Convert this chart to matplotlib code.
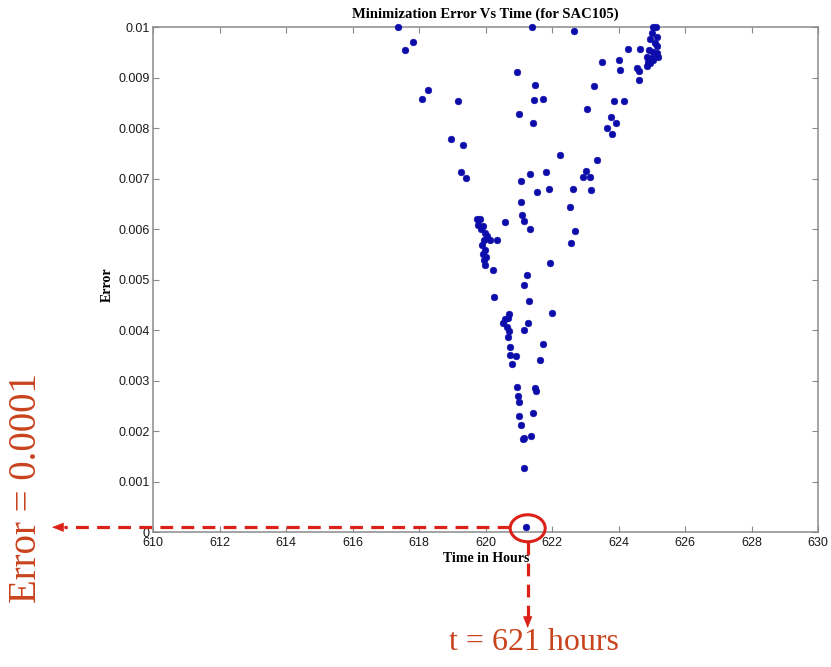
import numpy as np
import matplotlib.pyplot as plt
from matplotlib.patches import Ellipse

# ========== data ==========
time_hours = [
    617.37, 617.57, 617.82, 621.38, 622.65, 620.93, 621.48, 621.46, 621.71,
    618.27, 618.08, 619.15, 621.00, 621.43, 618.94, 619.32, 619.26, 619.40,
    622.23, 623.34, 621.33, 621.81, 621.07, 621.53, 621.89, 622.61, 623.02,
    622.91, 623.13, 623.16, 621.07, 622.54, 621.09, 621.16, 621.34, 620.59,
    622.67, 622.55, 621.92, 621.23, 620.23,
    # cluster near 620 h
    619.73, 619.83, 619.78, 619.92, 619.98, 619.95, 620.13, 620.33, 619.88,
    619.98, 620.01, 619.95, 619.99, 619.86, 620.03, 619.93,
    # upper right
    624.29, 624.64, 623.49, 624.02, 624.04, 624.54, 624.62, 624.62, 623.26,
    623.85, 624.15, 623.03, 623.76, 623.91, 623.64, 623.80,
    625.02, 625.12, 624.99, 625.14, 624.94, 625.09, 625.16, 624.92, 625.04,
    625.14, 624.84, 624.99, 625.17, 624.89, 625.04, 624.84, 624.94,
    # lower branch
    621.16, 620.26, 621.29, 621.99, 620.71, 620.58, 620.53, 620.63, 620.71,
    620.68, 621.27, 621.16, 620.66, 621.73, 620.73, 620.73, 620.91, 621.63,
    620.79, 620.94, 620.96, 621.01, 621.49, 621.51, 621.01, 621.05, 621.41,
    621.11, 621.16, 621.37, 621.15, 621.21,
]
error = [
    0.01000, 0.00956, 0.00970, 0.01000, 0.00993, 0.00911, 0.00886, 0.00857, 0.00859,
    0.00876, 0.00859, 0.00855, 0.00828, 0.00811, 0.00779, 0.00766, 0.00713, 0.00702,
    0.00748, 0.00737, 0.00709, 0.00714, 0.00696, 0.00674, 0.00680, 0.00680, 0.00716,
    0.00703, 0.00703, 0.00677, 0.00654, 0.00644, 0.00628, 0.00617, 0.00600, 0.00614,
    0.00597, 0.00572, 0.00534, 0.00510, 0.00519,
    0.00620, 0.00620, 0.00609, 0.00606, 0.00592, 0.00579, 0.00579, 0.00579, 0.00569,
    0.00559, 0.00546, 0.00540, 0.00530, 0.00600, 0.00586, 0.00552,
    0.00957, 0.00957, 0.00932, 0.00935, 0.00916, 0.00920, 0.00914, 0.00895, 0.00883,
    0.00854, 0.00854, 0.00838, 0.00822, 0.00810, 0.00800, 0.00789,
    0.01000, 0.01000, 0.00988, 0.00980, 0.00976, 0.00968, 0.00962, 0.00955, 0.00952,
    0.00949, 0.00942, 0.00939, 0.00941, 0.00932, 0.00935, 0.00923, 0.00929,
    0.00489, 0.00465, 0.00458, 0.00434, 0.00432, 0.00422, 0.00414, 0.00407, 0.00399,
    0.00424, 0.00415, 0.00400, 0.00387, 0.00372, 0.00367, 0.00352, 0.00350, 0.00341,
    0.00333, 0.00288, 0.00270, 0.00259, 0.00286, 0.00280, 0.00230, 0.00212, 0.00236,
    0.00184, 0.00187, 0.00191, 0.00127, 0.00010,
]
x_ticks = list(range(610, 631, 2))
y_ticks = [0, 0.001, 0.002, 0.003, 0.004, 0.005, 0.006, 0.007, 0.008, 0.009, 0.01]
y_ticklabels = ['0', '0.001', '0.002', '0.003', '0.004', '0.005',
                '0.006', '0.007', '0.008', '0.009', '0.01']

RED = '#dc2119'
TXT_RED = '#c9431d'
GRAY = '#8a8a8a'
SANS = ['Liberation Sans', 'DejaVu Sans']

# ========== figure ==========
fig = plt.figure(figsize=(8.31, 6.67), dpi=100)
ax = fig.add_axes([153.3 / 831, 1 - 532.3 / 667, 665 / 831, 505 / 667])

ax.plot(time_hours, error, 'o', ms=4.8, color='#0c0caa', mec='#0c0caa', mew=0.4,
        clip_on=False, zorder=3)

ax.set_xlim(610, 630)
ax.set_ylim(0, 0.01)
ax.set_xticks(x_ticks)
ax.set_yticks(y_ticks)
ax.set_yticklabels(y_ticklabels)

for s in ax.spines.values():
    s.set_color(GRAY)
    s.set_linewidth(1.1)
ax.tick_params(direction='in', length=4, width=0.8, color=GRAY,
               top=True, right=True, labelsize=9, labelcolor='#1a1a1a', pad=2.5)
ax.tick_params(axis='x', pad=3.5)
for lab in ax.get_xticklabels() + ax.get_yticklabels():
    lab.set_family(SANS)

ax.set_title('Minimization Error Vs Time (for SAC105)', family='Liberation Serif',
             fontweight='bold', fontsize=10.5, pad=7)
ax.set_xlabel('Time in Hours', family='Liberation Serif', fontweight='bold',
              fontsize=10, labelpad=2)
ax.set_ylabel('Error', family='Liberation Serif', fontweight='bold', fontsize=10)
ax.yaxis.set_label_coords((114 - 153.3) / 665, 0.49)

# ========== annotation of the minimum ==========
i_min = int(np.argmin(error))
t_min = time_hours[i_min]
e_min = error[i_min]

ell_w = 35 / 33.25          # hours
ell_h = 27 / 50500          # error units
ax.add_patch(Ellipse((t_min + 0.05, e_min - 0.00002), ell_w, ell_h, fill=False,
                     ec=RED, lw=2.2, clip_on=False, zorder=4))

inv = ax.transData.inverted()
# far ends of the arrows (figure pixels -> data)
left_t = inv.transform((52, 0))[0]
bottom_e = inv.transform((0, 667 - 628))[1]
dash = (0, (4, 2.6))

ax.plot([t_min + 0.05 - ell_w / 2, left_t + 0.35], [e_min, e_min], color=RED, lw=2.3,
        ls=dash, clip_on=False, zorder=4)
ax.annotate('', xy=(left_t, e_min), xytext=(left_t + 0.4, e_min),
            arrowprops=dict(arrowstyle='-|>,head_length=0.75,head_width=0.3',
                            color=RED, lw=0.5, shrinkA=0, shrinkB=0),
            annotation_clip=False)

ax.plot([t_min + 0.05, t_min + 0.05], [e_min - 0.00002 - ell_h / 2, bottom_e + 0.00022],
        color=RED, lw=2.3, ls=dash, clip_on=False, zorder=4)
ax.annotate('', xy=(t_min + 0.05, bottom_e), xytext=(t_min + 0.05, bottom_e + 0.00025),
            arrowprops=dict(arrowstyle='-|>,head_length=0.75,head_width=0.3',
                            color=RED, lw=0.5, shrinkA=0, shrinkB=0),
            annotation_clip=False)

fig.text(26 / 831, 1 - 488 / 667, 'Error = 0.0001', rotation=90, color=TXT_RED,
         family='Liberation Serif', fontsize=28, ha='center', va='center')
fig.text(534 / 831, 1 - 643 / 667, 't = 621 hours', color=TXT_RED,
         family='Liberation Serif', fontsize=23, ha='center', va='center')

fig.savefig('out.png', dpi=100)
